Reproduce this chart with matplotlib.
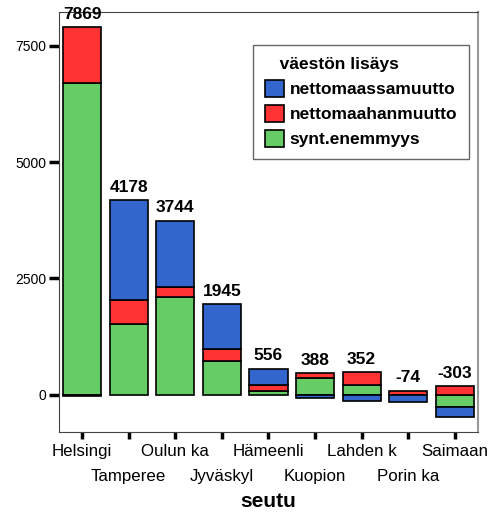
import numpy as np
import matplotlib.pyplot as plt

plt.rcParams['font.family'] = ['Liberation Sans', 'DejaVu Sans']

# seutukunnat ja väestön lisäyksen osat
seudut = ["Helsingi", "Tamperee", "Oulun ka", "Jyväskyl", "Hämeenli",
          "Kuopion", "Lahden k", "Porin ka", "Saimaan"]
synt_enemmyys = [6700, 1520, 2110, 730, 70, 370, 220, 0, -260]
nettomaahanmuutto = [1200, 520, 200, 250, 130, 90, 260, 90, 180]
nettomaassamuutto = [-31, 2138, 1434, 965, 356, -72, -128, -164, -223]
yhteensa = [7869, 4178, 3744, 1945, 556, 388, 352, -74, -303]

sarjat = [
    ("synt.enemmyys", synt_enemmyys, "#66CC66"),
    ("nettomaahanmuutto", nettomaahanmuutto, "#FF3333"),
    ("nettomaassamuutto", nettomaassamuutto, "#3366CC"),
]

fig = plt.figure(figsize=(4.99, 5.14), dpi=100)
ax = fig.add_axes([0.118, 0.160, 0.840, 0.817])

x = np.arange(len(seudut))
pos = np.zeros(len(seudut))
neg = np.zeros(len(seudut))
handles = {}
for nimi, arvot, vari in sarjat:
    arvot = np.array(arvot, dtype=float)
    pohja = np.where(arvot >= 0, pos, neg)
    b = ax.bar(x, arvot, 0.82, bottom=pohja, color=vari,
               edgecolor="black", linewidth=1.2, label=nimi)
    handles[nimi] = b
    pos = pos + np.where(arvot >= 0, arvot, 0)
    neg = neg + np.where(arvot < 0, arvot, 0)

# summat palkkien päälle
for i, s in enumerate(yhteensa):
    ax.annotate(str(s), (x[i], pos[i]), xytext=(0, 4), textcoords="offset points",
                ha="center", va="bottom", fontsize=12.5, fontweight="bold")

ax.set_xlim(-0.5, 8.5)
ax.set_ylim(-796, 8234)
ax.set_yticks([0, 2500, 5000, 7500])
ax.tick_params(axis="y", length=7, width=2.5, labelsize=10, pad=2)
ax.set_xticks(x)
ax.set_xticklabels(seudut)
ax.tick_params(axis="x", length=5, width=2.5, labelsize=12.2, pad=4)
for i, t in enumerate(ax.xaxis.get_major_ticks()):
    if i % 2 == 1:
        t.set_pad(22)
ax.set_xlabel("seutu", fontsize=15, fontweight="bold", labelpad=5.5)

for k in ["left", "top", "bottom"]:
    ax.spines[k].set_color("#444444")
ax.spines["right"].set_color("#999999")
ax.spines["right"].set_linewidth(1.5)

jarj = ["nettomaassamuutto", "nettomaahanmuutto", "synt.enemmyys"]
leg = ax.legend([handles[n] for n in jarj], jarj, title="   väestön lisäys",
                loc="upper right", bbox_to_anchor=(0.979, 0.921), borderaxespad=0,
                prop={"weight": "bold", "size": 12.5},
                title_fontproperties={"weight": "bold", "size": 12.5},
                fancybox=False, edgecolor="#666666", framealpha=1,
                handlelength=1.1, handleheight=1.1, handletextpad=0.3,
                borderpad=0.7, labelspacing=0.45)
leg._legend_box.align = "left"
leg.get_frame().set_linewidth(1.0)

fig.savefig("out.png", dpi=100)
